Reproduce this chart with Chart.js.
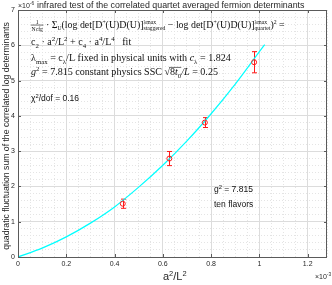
<!DOCTYPE html>
<html>
<head>
<meta charset="utf-8">
<script src="https://cdn.jsdelivr.net/npm/chart.js@4"></script>
<style>
html,body{margin:0;padding:0;background:#fff}
#wrap{width:332px;height:285px}
</style>
</head>
<body>
<div id="wrap"><canvas id="chart" width="332" height="285"></canvas></div>
<script>
// -------------------- DATA --------------------
const xTicks = [0, 0.2, 0.4, 0.6, 0.8, 1, 1.2];
const xTickLabels = ["0", "0.2", "0.4", "0.6", "0.8", "1", "1.2"];
const yTicks = [0, 1, 2, 3, 4, 5, 6, 7];
const yTickLabels = ["0", "1", "2", "3", "4", "5", "6", "7"];

// measured points (x in 1e-3, y in 1e-6)
const ptX = [0.434, 0.627, 0.774, 0.978];
const ptY = [1.51, 2.79, 3.81, 5.52];
const ptErr = [0.13, 0.20, 0.14, 0.30];

// fit curve
const fitX = [0, 0.1, 0.2, 0.3, 0.4, 0.5, 0.6, 0.7, 0.8, 0.9, 1.0, 1.022];
const fitY = [0, 0.25, 0.57, 0.96, 1.42, 1.98, 2.60, 3.29, 4.06, 4.90, 5.82, 6.02];

const SANS = "'Liberation Sans', Arial, sans-serif";
const SERIF = "'Liberation Serif', 'DejaVu Serif', serif";
const AXIS = "#5a5a5a";
const INK = "#262626";

// -------------------- TEXT HELPERS --------------------
// parts: string or {t, it, sup, sub, frac:[num,den]}
function rich(ctx, x, y, parts, fs, fam, dry, sf){
    sf = sf || 0.68;
    parts.forEach(p=>{
        if(typeof p==="string") p={t:p};
        const small = fs*sf;
        if(p.frac){
            ctx.font = small+"px "+fam;
            const wn = ctx.measureText(p.frac[0]).width;
            const wd = ctx.measureText(p.frac[1]).width;
            const w = Math.max(wn,wd)+1;
            if(!dry){
                ctx.fillText(p.frac[0], x+(w-wn)/2, y-fs*0.42);
                ctx.fillText(p.frac[1], x+(w-wd)/2, y+fs*0.3);
                ctx.fillRect(x, y-fs*0.33, w, 0.6);
            }
            x += w;
            return;
        }
        if(p.t){
            ctx.font = (p.it?"italic ":"")+fs+"px "+fam;
            if(!dry) ctx.fillText(p.t, x, y);
            x += ctx.measureText(p.t).width;
        }
        let w=0;
        ctx.font = small+"px "+fam;
        if(p.sup){
            if(!dry) ctx.fillText(p.sup, x, y-fs*(p.sub?0.42:0.38));
            w = ctx.measureText(p.sup).width;
        }
        if(p.sub){
            if(!dry) ctx.fillText(p.sub, x, y+fs*0.25);
            w = Math.max(w, ctx.measureText(p.sub).width);
        }
        x += w;
    });
    return x;
}

function fitFont(ctx, parts, fam, target, sf){
    const w = rich(ctx, 0, 0, parts, 10, fam, true, sf);
    return 10*target/w;
}

// -------------------- ANNOTATIONS --------------------
const line1 = [
    {frac:["1","Ncfg"]}, " \u00b7 ", {t:"\u03a3", sub:"U"}, "(log det[D", {sup:"+"}, "(U)D(U)]",
    {sup:"\u03bbmax", sub:"staggered"}, " \u2212 log det[D", {sup:"+"}, "(U)D(U)]",
    {sup:"\u03bbmax", sub:"quartet"}, ")", {sup:"2"}, " ="
];
const line2 = ["c", {sub:"2"}, " \u00b7 a", {sup:"2"}, "/L", {sup:"2"}, " + c", {sub:"4"},
    " \u00b7 a", {sup:"4"}, "/L", {sup:"4"}, "   fit"];
const line3 = [{t:"\u03bb", sub:"max"}, " = c", {sub:"\u03bb"}, "/L fixed in physical units with ",
    {t:"c", it:true, sub:"\u03bb"}, " = 1.824"];
const line4a = [{t:"g", it:true, sup:"2"}, " = 7.815 constant physics SSC \u221a"];
const line4b = ["8", {t:"t", it:true, sub:"0"}];
const line4c = [{t:"/L", it:true}, " = 0.25"];
const line5 = [{t:"\u03c7", sup:"2"}, "/dof = 0.16"];
const noteG = [{t:"g", sup:"2"}, " = 7.815"];

const textPlugin = {
    id:"texts",
    beforeDatasetsDraw(chart){
        // error bars
        const ctx = chart.ctx, xs = chart.scales.x, ys = chart.scales.y;
        ctx.save();
        ctx.strokeStyle = "#ff1a1a";
        ctx.lineWidth = 1;
        ptX.forEach((v,i)=>{
            const px = Math.round(xs.getPixelForValue(v))+0.5;
            const top = ys.getPixelForValue(ptY[i]+ptErr[i]);
            const bot = ys.getPixelForValue(ptY[i]-ptErr[i]);
            ctx.beginPath();
            ctx.moveTo(px, top); ctx.lineTo(px, bot);
            ctx.moveTo(px-2.5, top); ctx.lineTo(px+2.5, top);
            ctx.moveTo(px-2.5, bot); ctx.lineTo(px+2.5, bot);
            ctx.stroke();
        });
        ctx.restore();
    },
    afterDraw(chart){
        const ctx = chart.ctx, a = chart.chartArea;
        const xs = chart.scales.x, ys = chart.scales.y;
        ctx.save();
        // box + inward ticks
        ctx.strokeStyle = AXIS;
        ctx.lineWidth = 1;
        ctx.strokeRect(Math.round(a.left)+0.5, Math.round(a.top)+0.5, Math.round(a.right-a.left)-1, Math.round(a.bottom-a.top));
        ctx.beginPath();
        xTicks.forEach(v=>{
            const px = Math.round(xs.getPixelForValue(v))+0.5;
            ctx.moveTo(px, a.bottom); ctx.lineTo(px, a.bottom-3);
            ctx.moveTo(px, a.top); ctx.lineTo(px, a.top+3);
        });
        yTicks.forEach(v=>{
            const py = Math.round(ys.getPixelForValue(v))+0.5;
            ctx.moveTo(a.left, py); ctx.lineTo(a.left+3, py);
            ctx.moveTo(a.right, py); ctx.lineTo(a.right-3, py);
        });
        ctx.stroke();

        ctx.fillStyle = INK;
        ctx.textBaseline = "alphabetic";
        ctx.textAlign = "left";

        // title
        const title = "infrared test of the correlated quartet averaged fermion determinants";
        ctx.font = "10px "+SANS;
        let fs = 10*268/ctx.measureText(title).width;
        ctx.font = fs+"px "+SANS;
        ctx.fillText(title, 37, 8);

        // exponent labels
        rich(ctx, 18, 8, ["\u00d710", {sup:"-6"}], 7, SANS);
        rich(ctx, 315, 279, ["\u00d710", {sup:"-3"}], 7, SANS);

        // x label
        rich(ctx, 163, 280, ["a", {sup:"2"}, "/L", {sup:"2"}], 11, SANS);

        // y label
        const ylab = "quadratic fluctuation sum of the correlated log determinants";
        ctx.font = "10px "+SANS;
        fs = 10*228/ctx.measureText(ylab).width;
        ctx.save();
        ctx.translate(9, 136);
        ctx.rotate(-Math.PI/2);
        ctx.textAlign = "center";
        ctx.font = fs+"px "+SANS;
        ctx.fillText(ylab, 0, 0);
        ctx.restore();

        // serif annotations
        ctx.fillStyle = "#111";
        const sfs = fitFont(ctx, line3, SERIF, 200);
        const s1 = fitFont(ctx, line1, SERIF, 254, 0.58);
        rich(ctx, 31, 28, line1, s1, SERIF, false, 0.58);
        rich(ctx, 31, 45, line2, sfs, SERIF);
        rich(ctx, 31, 61, line3, sfs, SERIF);
        const x4 = rich(ctx, 31, 75, line4a, sfs, SERIF);
        const x5 = rich(ctx, x4, 75, line4b, sfs, SERIF);
        ctx.fillRect(x4-0.5, 75-sfs*0.8, x5-x4+0.5, 0.6);
        rich(ctx, x5, 75, line4c, sfs, SERIF);

        rich(ctx, 31, 101, line5, 8.5, SANS);
        rich(ctx, 214, 192, noteG, 8.5, SANS);
        ctx.font = "8.5px "+SANS;
        ctx.fillText("ten flavors", 214, 207);
        ctx.restore();
    }
};

// -------------------- CHART --------------------
const tickFont = {family:"Liberation Sans", size:7};

new Chart(document.getElementById("chart"), {
    type:"scatter",
    data:{
        datasets:[
            {
                label:"data",
                data:ptX.map((x,i)=>({x, y:ptY[i]})),
                pointStyle:"circle",
                pointRadius:2.5,
                pointBorderWidth:1,
                pointBorderColor:"#ff1a1a",
                pointBackgroundColor:"rgba(0,0,0,0)",
                showLine:false
            },
            {
                label:"fit",
                data:fitX.map((x,i)=>({x, y:fitY[i]})),
                showLine:true,
                pointRadius:0,
                borderColor:"#00ffff",
                borderWidth:1.2,
                cubicInterpolationMode:"monotone",
                fill:false
            }
        ]
    },
    options:{
        responsive:false,
        animation:false,
        devicePixelRatio:1,
        layout:{padding:{top:10, right:1, left:0, bottom:0}},
        plugins:{legend:{display:false}, tooltip:{enabled:false}, title:{display:false}},
        scales:{
            x2:{
                type:"linear", min:0, max:1.28, position:"bottom",
                ticks:{display:false, stepSize:0.05, autoSkip:false},
                grid:{color:"#e4e4e4", drawTicks:false},
                border:{display:false, dash:[1,2]},
                afterFit:s=>{ s.height = 0; }
            },
            y2:{
                type:"linear", min:0, max:7, position:"left",
                ticks:{display:false, stepSize:0.2, autoSkip:false},
                grid:{color:"#e4e4e4", drawTicks:false},
                border:{display:false, dash:[1,2]},
                afterFit:s=>{ s.width = 0; }
            },
            x:{
                type:"linear", min:0, max:1.28, position:"bottom",
                afterBuildTicks:s=>{ s.ticks = xTicks.map(v=>({value:v})); },
                ticks:{callback:(v,i)=>xTickLabels[i], font:tickFont, color:INK, padding:3, maxRotation:0, autoSkip:false},
                grid:{color:"#dcdcdc", drawTicks:false},
                border:{display:false},
                afterFit:s=>{ s.height = 28; }
            },
            y:{
                type:"linear", min:0, max:7, position:"left",
                afterBuildTicks:s=>{ s.ticks = yTicks.map(v=>({value:v})); },
                ticks:{callback:(v,i)=>yTickLabels[i], font:tickFont, color:INK, padding:3, autoSkip:false},
                grid:{color:"#dcdcdc", drawTicks:false},
                border:{display:false},
                afterFit:s=>{ s.width = 18; }
            }
        }
    },
    plugins:[textPlugin]
});
</script>
</body>
</html>
